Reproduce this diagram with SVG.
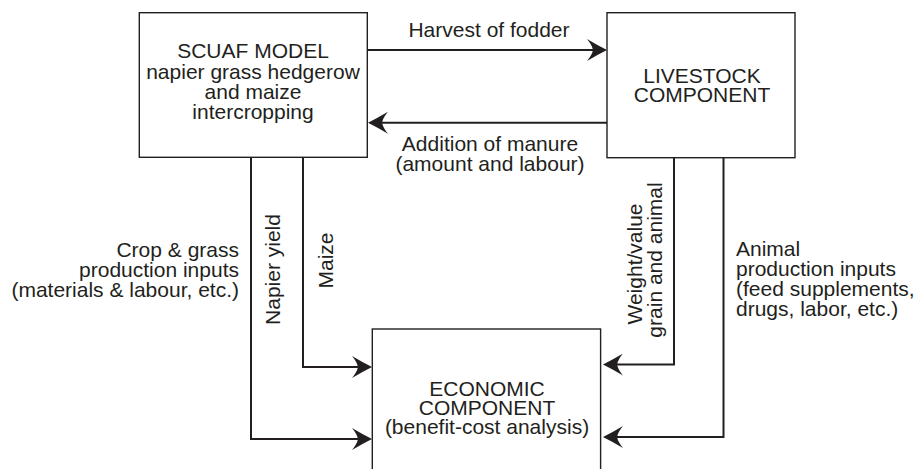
<svg xmlns="http://www.w3.org/2000/svg" width="917" height="469" viewBox="0 0 917 469">
<style>
  .box { fill: #ffffff; stroke: #231f20; stroke-width: 1.4; }
  .t { font-family: "Liberation Sans", Arial, sans-serif; font-size: 21px; fill: #231f20; }
  .c { text-anchor: middle; }
  .r { text-anchor: end; }
  .conn { fill: none; stroke: #231f20; stroke-width: 2; marker-end: url(#arr); }
  .plain { fill: none; stroke: #231f20; stroke-width: 2; }
</style>
<defs>
  <marker id="arr" viewBox="0 0 20 22" markerWidth="20" markerHeight="22" refX="8" refY="11" orient="auto" markerUnits="userSpaceOnUse">
    <path d="M20,11 Q10,6 0,0 Q5,6 6,11 Q5,16 0,22 Q10,16 20,11 Z" fill="#231f20"/>
  </marker>
</defs>
<rect width="917" height="469" fill="#ffffff"/>

<g id="connectors">
  <path class="conn" d="M367,50 H595"/>
  <path class="conn" d="M607,122.7 H380"/>
  <path class="conn" d="M251,157 V439 H360"/>
  <path class="conn" d="M303,157 V367 H360"/>
  <path class="conn" d="M674,157 V364.5 H615"/>
  <path class="conn" d="M723.5,157 V437 H615"/>
  <text class="t c" x="489" y="37">Harvest of fodder</text>
  <text class="t c" x="490" y="151">Addition of manure</text>
  <text class="t c" x="490" y="171">(amount and labour)</text>
  <text class="t r" x="239" y="256.5">Crop &amp; grass</text>
  <text class="t r" x="239" y="276.5">production inputs</text>
  <text class="t r" x="239" y="296.5">(materials &amp; labour, etc.)</text>
  <text class="t c" transform="translate(280,269.5) rotate(-90)">Napier yield</text>
  <text class="t c" transform="translate(333,260.5) rotate(-90)">Maize</text>
  <text class="t c" transform="translate(642,264) rotate(-90)">Weight/value</text>
  <text class="t c" transform="translate(662,260) rotate(-90)">grain and animal</text>
  <text class="t" x="736" y="256">Animal</text>
  <text class="t" x="736" y="276">production inputs</text>
  <text class="t" x="736" y="296">(feed supplements,</text>
  <text class="t" x="736" y="316">drugs, labor, etc.)</text>
</g>

<g id="scuaf">
  <rect class="box" x="139.3" y="12.7" width="228" height="144.6"/>
  <text class="t c" x="253" y="58">SCUAF MODEL</text>
  <text class="t c" x="253" y="79">napier grass hedgerow</text>
  <text class="t c" x="253" y="99">and maize</text>
  <text class="t c" x="253" y="119">intercropping</text>
</g>

<g id="livestock">
  <rect class="box" x="607" y="12.7" width="188" height="145"/>
  <text class="t c" x="702" y="82.7">LIVESTOCK</text>
  <text class="t c" x="702" y="101.7">COMPONENT</text>
</g>

<g id="economic">
  <rect class="box" x="372.3" y="329" width="228.3" height="160"/>
  <text class="t c" x="487" y="395.7">ECONOMIC</text>
  <text class="t c" x="487" y="415">COMPONENT</text>
  <text class="t c" x="487" y="433.5">(benefit-cost analysis)</text>
</g>
</svg>
